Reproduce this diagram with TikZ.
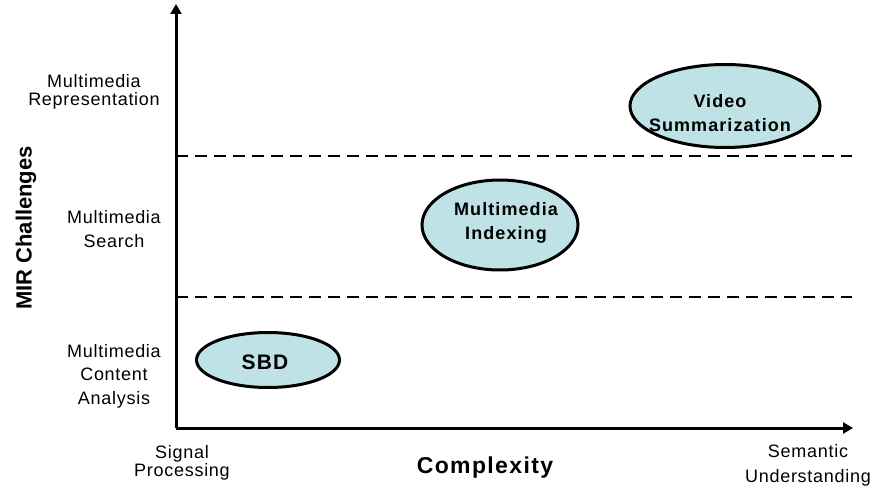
\documentclass[tikz,border=0pt]{standalone}
\usepackage{fontspec}
\setmainfont{Liberation Sans}
\newfontfamily\spacedfont[LetterSpace=6]{Liberation Sans}
\newfontfamily\lblfont[LetterSpace=4]{Liberation Sans}
\usetikzlibrary{shapes.geometric,arrows.meta}
\definecolor{cellfill}{RGB}{190,226,229}
\begin{document}
\begin{tikzpicture}[x=1pt,y=-1pt,
  axis/.style={line width=3pt,-{Triangle[length=10pt,width=11pt]}},
  sep/.style={line width=2.8pt,dash pattern=on 12pt off 7pt},
  blob/.style={ellipse,draw,line width=3pt,fill=cellfill,inner sep=0pt},
  btxt/.style={align=center,inner sep=0pt,font=\spacedfont\fontsize{18}{23.5}\selectfont\bfseries},
  lbl/.style={align=center,inner sep=0pt,font=\lblfont\fontsize{18}{23.5}\selectfont},
  ttl/.style={inner sep=0pt,font=\fontsize{22}{26}\selectfont\bfseries}]
\useasboundingbox (0,0) rectangle (876,495);
\coordinate (o) at (176,428);
\coordinate (ytop) at (176,4);
\coordinate (xend) at (853,428);
\draw[axis] (o) -- (ytop);
\draw[axis] (o) -- (xend);
\coordinate (d1a) at (176,156); \coordinate (d1b) at (852,156);
\coordinate (d2a) at (176,297); \coordinate (d2b) at (852,297);
\draw[sep] (d1a) -- (d1b);
\draw[sep] (d2a) -- (d2b);
\node[blob,minimum width=190pt,minimum height=83pt] (vs) at (725,106) {};
\node[btxt] (vst) at (720,113) {Video\\Summarization};
\node[blob,minimum width=156pt,minimum height=90pt] (mi) at (500,225) {};
\node[btxt] (mit) at (506,223) {Multimedia\\Indexing};
\node[blob,minimum width=143pt,minimum height=55pt] (sbd) at (268,360) {};
\node[btxt,font=\spacedfont\fontsize{21}{24}\selectfont\bfseries] (sbdt) at (265,362) {SBD};
\node[lbl,font=\lblfont\fontsize{18}{18}\selectfont] (l1) at (94,92) {Multimedia\\Representation};
\node[lbl] (l2) at (114,229) {Multimedia\\Search};
\node[lbl] (l3) at (114,376) {Multimedia\\Content\\Analysis};
\node[lbl,font=\lblfont\fontsize{18}{18}\selectfont] (b1) at (182,463) {Signal\\Processing};
\node[lbl,font=\lblfont\fontsize{18}{25}\selectfont] (b2) at (808,465) {Semantic\\Understanding};
\node[ttl,rotate=90] (yt) at (26,228) {MIR Challenges};
\node[ttl,font=\spacedfont\fontsize{23}{27}\selectfont\bfseries] (xt) at (485,468) {Complexity};
\end{tikzpicture}
\end{document}
